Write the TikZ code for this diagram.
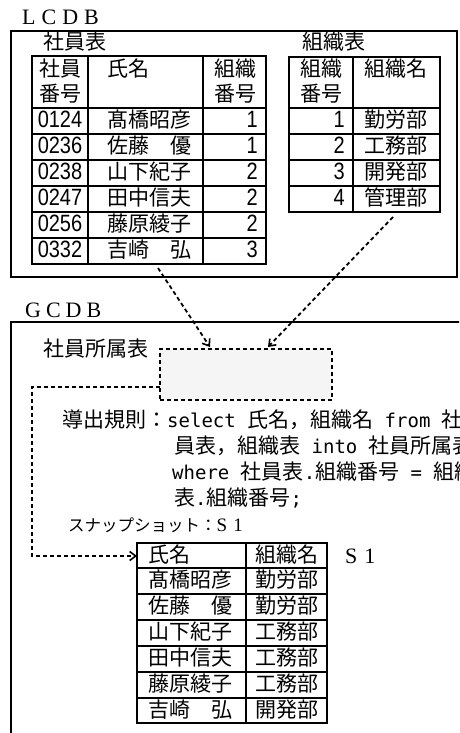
\documentclass[tikz,border=0pt]{standalone}
\usepackage{fontspec}
\usepackage{graphicx}
\setmainfont{Liberation Serif}
\newfontfamily\jpf{Noto Sans CJK JP}
\newfontfamily\monof{DejaVu Sans Mono}
\newfontfamily\digf{Liberation Sans}
\usetikzlibrary{arrows.meta}
\newcommand\tdig[1]{\scalebox{1}[1.18]{#1}}
\newcommand\J[1]{{\jpf\fontsize{21}{21}\selectfont #1}}
\newcommand\M[1]{{\monof\fontsize{19}{19}\selectfont #1}}
\begin{document}
\begin{tikzpicture}[x=1pt,y=-1pt,
  outer/.style={line width=2pt},
  tline/.style={line width=1.5pt},
  dsh/.style={line width=1.8pt,dash pattern=on 4pt off 3pt},
  darrow/.style={dsh,-{Straight Barb[length=6pt,width=9pt,line width=1.6pt]}},
  jt/.style={font=\jpf\fontsize{21}{21}\selectfont,inner sep=0pt,text height=16.5pt,text depth=3pt},
  dg/.style={font=\digf\fontsize{20}{20}\selectfont,inner sep=0pt,text height=16.5pt,text depth=3pt},
  ttl/.style={font=\fontsize{22}{22}\selectfont,inner sep=0pt,text height=15pt,text depth=0pt,anchor=west},
  code/.style={inner sep=0pt,text height=16.5pt,text depth=3pt,anchor=west}
]
\useasboundingbox (0,0) rectangle (459,733);
\clip (0,0) rectangle (459,733);

% ---------- LCDB ----------
\node[ttl] (lcdb) at (22,17) {L\hspace{6pt}C\hspace{6pt}D\hspace{6pt}B};
\draw[outer] (11,31) rectangle (457,277);

% table 1
\node[jt,anchor=west] (t1title) at (43,43) {社員表};
\draw[tline] (32,56) rectangle (266,264);
\foreach \xx in {88,203} \draw[tline] (\xx,56) -- (\xx,264);
\foreach \yy in {108,134,160,186,212,238} \draw[tline] (32,\yy) -- (266,\yy);
\node[jt] (t1h1a) at (60,70) {社員};
\node[jt] (t1h1b) at (60,95) {番号};
\node[jt,anchor=west] (t1h2) at (107,70) {氏名};
\node[jt] (t1h3a) at (235,70) {組織};
\node[jt] (t1h3b) at (235,95) {番号};
\foreach \n/\nm/\o [count=\k] in {0124/髙橋昭彦/1,0236/佐藤　優/1,0238/山下紀子/2,0247/田中信夫/2,0256/藤原綾子/2,0332/吉崎　弘/3}{
  \pgfmathsetmacro\yy{121+26*(\k-1)}
  \node[dg] (t1n\k) at (60,\yy) {\tdig{\n}};
  \node[jt,anchor=west] (t1m\k) at (107,\yy) {\nm};
  \node[dg,anchor=east] (t1o\k) at (258,\yy) {\tdig{\o}};
}

% table 2
\node[jt,anchor=west] (t2title) at (302,43) {組織表};
\draw[tline] (289,57) rectangle (440,212);
\draw[tline] (353,57) -- (353,212);
\foreach \yy in {108,134,160,186} \draw[tline] (289,\yy) -- (440,\yy);
\node[jt] (t2h1a) at (321,70) {組織};
\node[jt] (t2h1b) at (321,95) {番号};
\node[jt] (t2h2) at (396,70) {組織名};
\foreach \o/\d [count=\k] in {1/勤労部,2/工務部,3/開発部,4/管理部}{
  \pgfmathsetmacro\yy{121+26*(\k-1)}
  \node[dg,anchor=east] (t2o\k) at (345,\yy) {\tdig{\o}};
  \node[jt] (t2d\k) at (396,\yy) {\d};
}

% ---------- GCDB ----------
\node[ttl] (gcdb) at (25,310) {G\hspace{5pt}C\hspace{5pt}D\hspace{5pt}B};
\draw[outer] (470,322) -- (11,322) -- (11,745);

\node[jt,anchor=west] (viewlbl) at (43,350) {社員所属表};
\node[draw,dsh,fill=black!4,minimum width=172pt,minimum height=51pt,inner sep=0pt] (view) at (246,374.5) {};

% derivation rule text
\node[code] (rule1) at (62,421) {\J{導出規則：}\M{select~}\J{氏名，組織名}\M{~from~}\J{社}};
\node[code] (rule2) at (174,447) {\J{員表，組織表}\M{~into~}\J{社員所属表}};
\node[code] (rule3) at (172,473) {\M{where~}\J{社員表}\M{.}\J{組織番号}\M{~=~}\J{組織}};
\node[code] (rule4) at (174,499) {\J{表}\M{.}\J{組織番号}\M{;}};
\node[code] (snap) at (68,525) {{\jpf\fontsize{16.5}{17}\selectfont スナップショット：}{\fontsize{19}{19}\selectfont S\hspace{6pt}1}};

% snapshot table S1
\draw[tline] (137,543) rectangle (327,723);
\draw[tline] (246,543) -- (246,723);
\foreach \yy in {568,594,620,646,672,698} \draw[tline] (137,\yy) -- (327,\yy);
\node[jt,anchor=west] (s1h1) at (148,556) {氏名};
\node[jt] (s1h2) at (287,556) {組織名};
\node[ttl] (s1lbl) at (345,556) {S\hspace{7pt}1};
\foreach \nm/\d [count=\k] in {髙橋昭彦/勤労部,佐藤　優/勤労部,山下紀子/工務部,田中信夫/工務部,藤原綾子/工務部,吉崎　弘/開発部}{
  \pgfmathsetmacro\yy{581+25.9*(\k-1)}
  \node[jt,anchor=west] (s1m\k) at (148,\yy) {\nm};
  \node[jt] (s1d\k) at (287,\yy) {\d};
}
\coordinate (s1in) at (137,556);

% connectors
\coordinate (a1s) at (158,268);
\coordinate (a1e) at (210,347);
\coordinate (a2s) at (393,217);
\coordinate (a2e) at (268,347);
\draw[darrow] (a1s) -- (a1e);
\draw[darrow] (a2s) -- (a2e);
\coordinate (cst) at (160,387);
\draw[darrow] (cst) -- (32,387) |- (s1in);
\end{tikzpicture}
\end{document}
